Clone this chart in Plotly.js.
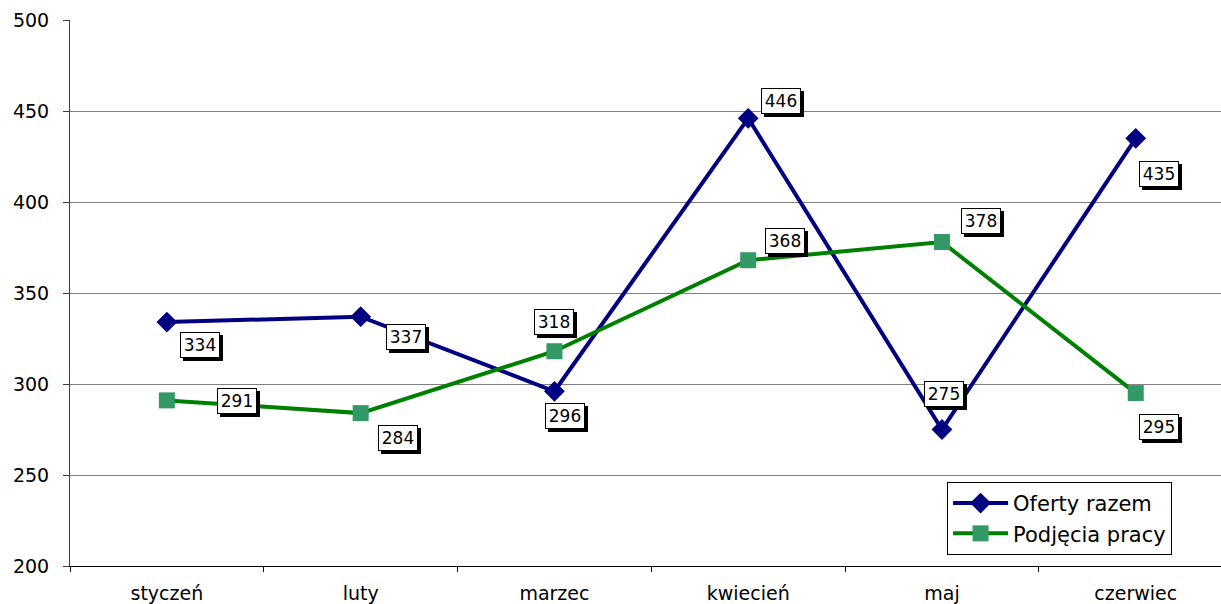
<!DOCTYPE html>
<html>
<head>
<meta charset="utf-8">
<script src="https://cdn.plot.ly/plotly-3.0.1.min.js"></script>
<style>html,body{margin:0;padding:0;background:#fff;overflow:hidden;}</style>
</head>
<body>
<div id="chart" style="width:1221px;height:604px;"></div>
<script>
const months = ["styczeń", "luty", "marzec", "kwiecień", "maj", "czerwiec"];
const oferty = [334, 337, 296, 446, 275, 435];
const podjecia = [291, 284, 318, 368, 378, 295];
const seriesNames = ["Oferty razem", "Podjęcia pracy"];

// label offsets in pixels (x, y-up) relative to each point
const ofertyOffsets = [[33, -23], [45, -20], [11, -25], [33, 17], [2, 36], [23, -36]];
const podjeciaOffsets = [[70, -1], [37, -25], [0, 29], [37, 19], [39, 21], [23, -34]];

const FONT = "DejaVu Sans, Verdana, sans-serif";

const traces = [
  {
    x: months, y: oferty, name: seriesNames[0], type: "scatter", mode: "lines+markers",
    line: {color: "#000080", width: 4},
    marker: {symbol: "diamond", size: 16, color: "#000080"}
  },
  {
    x: months, y: podjecia, name: seriesNames[1], type: "scatter", mode: "lines+markers",
    line: {color: "#008000", width: 4},
    marker: {symbol: "square", size: 16, color: "#339966"}
  }
];

const shadows = [], boxes = [];
function addLabels(vals, offs) {
  vals.forEach((v, i) => {
    const base = {
      x: months[i], y: v, showarrow: false,
      font: {family: FONT, size: 17, color: "#000"},
      width: 34, height: 20, borderpad: 2, borderwidth: 1
    };
    shadows.push(Object.assign({}, base, {
      text: "\u00a0",
      xshift: offs[i][0] + 3, yshift: offs[i][1] - 3,
      bgcolor: "#000", bordercolor: "#000"
    }));
    boxes.push(Object.assign({}, base, {
      text: String(v),
      xshift: offs[i][0], yshift: offs[i][1],
      bgcolor: "#fff", bordercolor: "#000"
    }));
  });
}
addLabels(oferty, ofertyOffsets);
addLabels(podjecia, podjeciaOffsets);

const layout = {
  width: 1221, height: 604,
  margin: {l: 70, r: 0, t: 20, b: 38},
  paper_bgcolor: "#fff", plot_bgcolor: "#fff",
  font: {family: FONT, size: 19, color: "#000"},
  showlegend: true,
  legend: {
    x: 0.762, y: 0.154, xanchor: "left", yanchor: "top",
    bgcolor: "#fff", bordercolor: "#000", borderwidth: 1,
    font: {family: FONT, size: 21, color: "#000"}, tracegroupgap: 0,
    itemwidth: 55
  },
  xaxis: {
    type: "category", range: [-0.5, 5.44],
    showgrid: false, showline: true, linecolor: "#000", linewidth: 1,
    ticks: "outside", tickson: "boundaries", ticklen: 5, tickcolor: "#000",
    tickfont: {family: FONT, size: 19}, ticklabelstandoff: 10, zeroline: false, fixedrange: true
  },
  yaxis: {
    range: [200, 500], dtick: 50, tick0: 200,
    showgrid: true, gridcolor: "#808080", gridwidth: 1,
    showline: true, linecolor: "#404040", linewidth: 1,
    ticks: "outside", ticklen: 6, tickcolor: "#404040",
    tickfont: {family: FONT, size: 19}, ticklabelstandoff: 10, zeroline: false, fixedrange: true
  },
  annotations: shadows.concat(boxes)
};

Plotly.newPlot("chart", traces, layout, {displayModeBar: false, staticPlot: true});
</script>
</body>
</html>
